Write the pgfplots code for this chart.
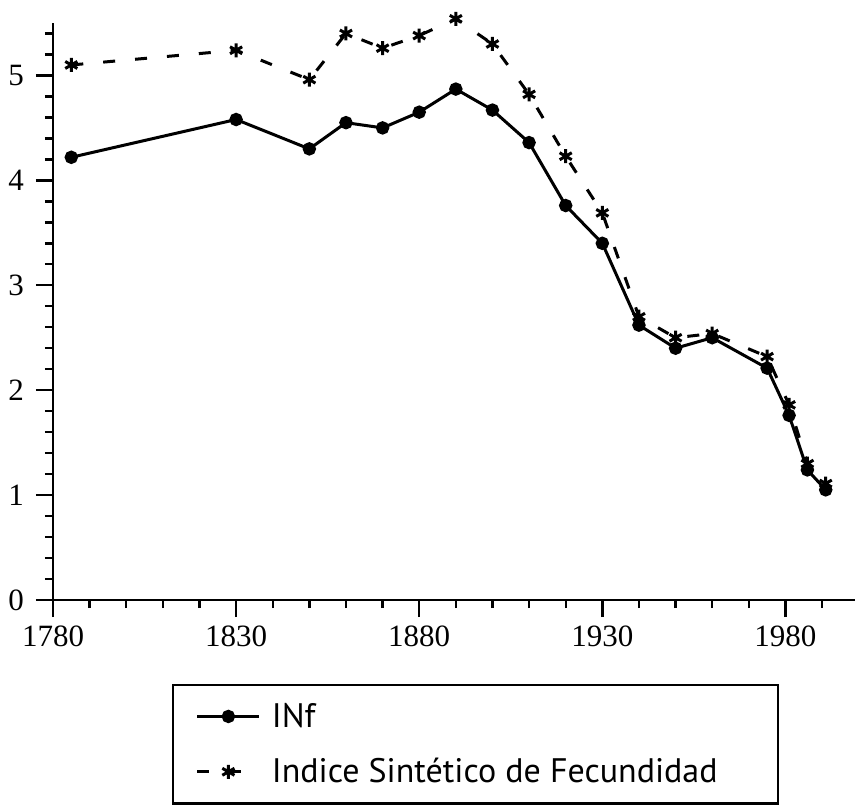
\documentclass[border=0pt]{standalone}
\usepackage{fontspec}
\setmainfont{Liberation Serif}
\newfontfamily\legfont{PT Sans}
\usepackage{pgfplots}
\pgfplotsset{compat=1.18}
\begin{document}
\begin{tikzpicture}
\path[use as bounding box] (-26.5pt,-103.5pt) rectangle (401pt,300pt);
\begin{axis}[
  at={(0pt,0pt)}, anchor=south west,
  scale only axis, width=401pt, height=288.5pt,
  xmin=1780, xmax=1999, ymin=0, ymax=5.5,
  axis x line*=bottom, axis y line*=left,
  axis line style={line width=1.2pt, -},
  xtick={1780,1830,1880,1930,1980},
  minor xtick={1790,1800,1810,1820,1840,1850,1860,1870,1890,1900,1910,1920,1940,1950,1960,1970,1990},
  ytick={0,1,2,3,4,5},
  minor ytick={0.2,0.4,0.6,0.8,1.2,1.4,1.6,1.8,2.2,2.4,2.6,2.8,3.2,3.4,3.6,3.8,4.2,4.4,4.6,4.8,5.2,5.4},
  tick align=outside, major tick length=8.5pt, minor tick length=4pt,
  every tick/.style={line width=1.2pt, black},
  /pgf/number format/assume math mode=true,
  /pgf/number format/1000 sep={},
  tick label style={font=\fontsize{15.5}{17}\selectfont},
  yticklabel style={xshift=-2.5pt},
  xticklabel style={yshift=-1pt},
  clip=false,
  legend style={at={(axis description cs:0.148,-0.145)}, anchor=north west,
    draw=black, line width=1.2pt, font=\legfont\fontsize{17}{19}\selectfont,
    row sep=10pt, inner xsep=11.5pt, inner ysep=7pt, cells={anchor=west}},
  legend cell align=left,
  legend image code/.code={\draw[mark repeat=2,mark phase=2,#1] plot coordinates {(0pt,0pt)(15.5pt,0pt)(31pt,0pt)};},
]
\addplot[black, line width=1.5pt, mark=*, mark size=2.6pt] coordinates {
(1785,4.22) (1830,4.58) (1850,4.30) (1860,4.55) (1870,4.50) (1880,4.65)
(1890,4.87) (1900,4.67) (1910,4.36) (1920,3.76) (1930,3.40) (1940,2.62)
(1950,2.40) (1960,2.50) (1975,2.21) (1981,1.76) (1986,1.24) (1991,1.05)
};
\addlegendentry{\makebox[243pt][l]{\hspace{3.5pt}INf}}
\addplot[black, line width=1.5pt, dash pattern=on 6pt off 10pt, mark=asterisk, mark size=3.5pt, mark options={solid, line width=1.5pt}] coordinates {
(1785,5.10) (1830,5.24) (1850,4.96) (1860,5.40) (1870,5.26) (1880,5.38)
(1890,5.54) (1900,5.30) (1910,4.82) (1920,4.23) (1930,3.69) (1940,2.70)
(1950,2.50) (1960,2.54) (1975,2.32) (1981,1.86) (1986,1.30) (1991,1.11)
};
\addlegendentry{\makebox[243pt][l]{\hspace{3.5pt}Indice Sintético de Fecundidad}}
\end{axis}
\end{tikzpicture}
\end{document}
